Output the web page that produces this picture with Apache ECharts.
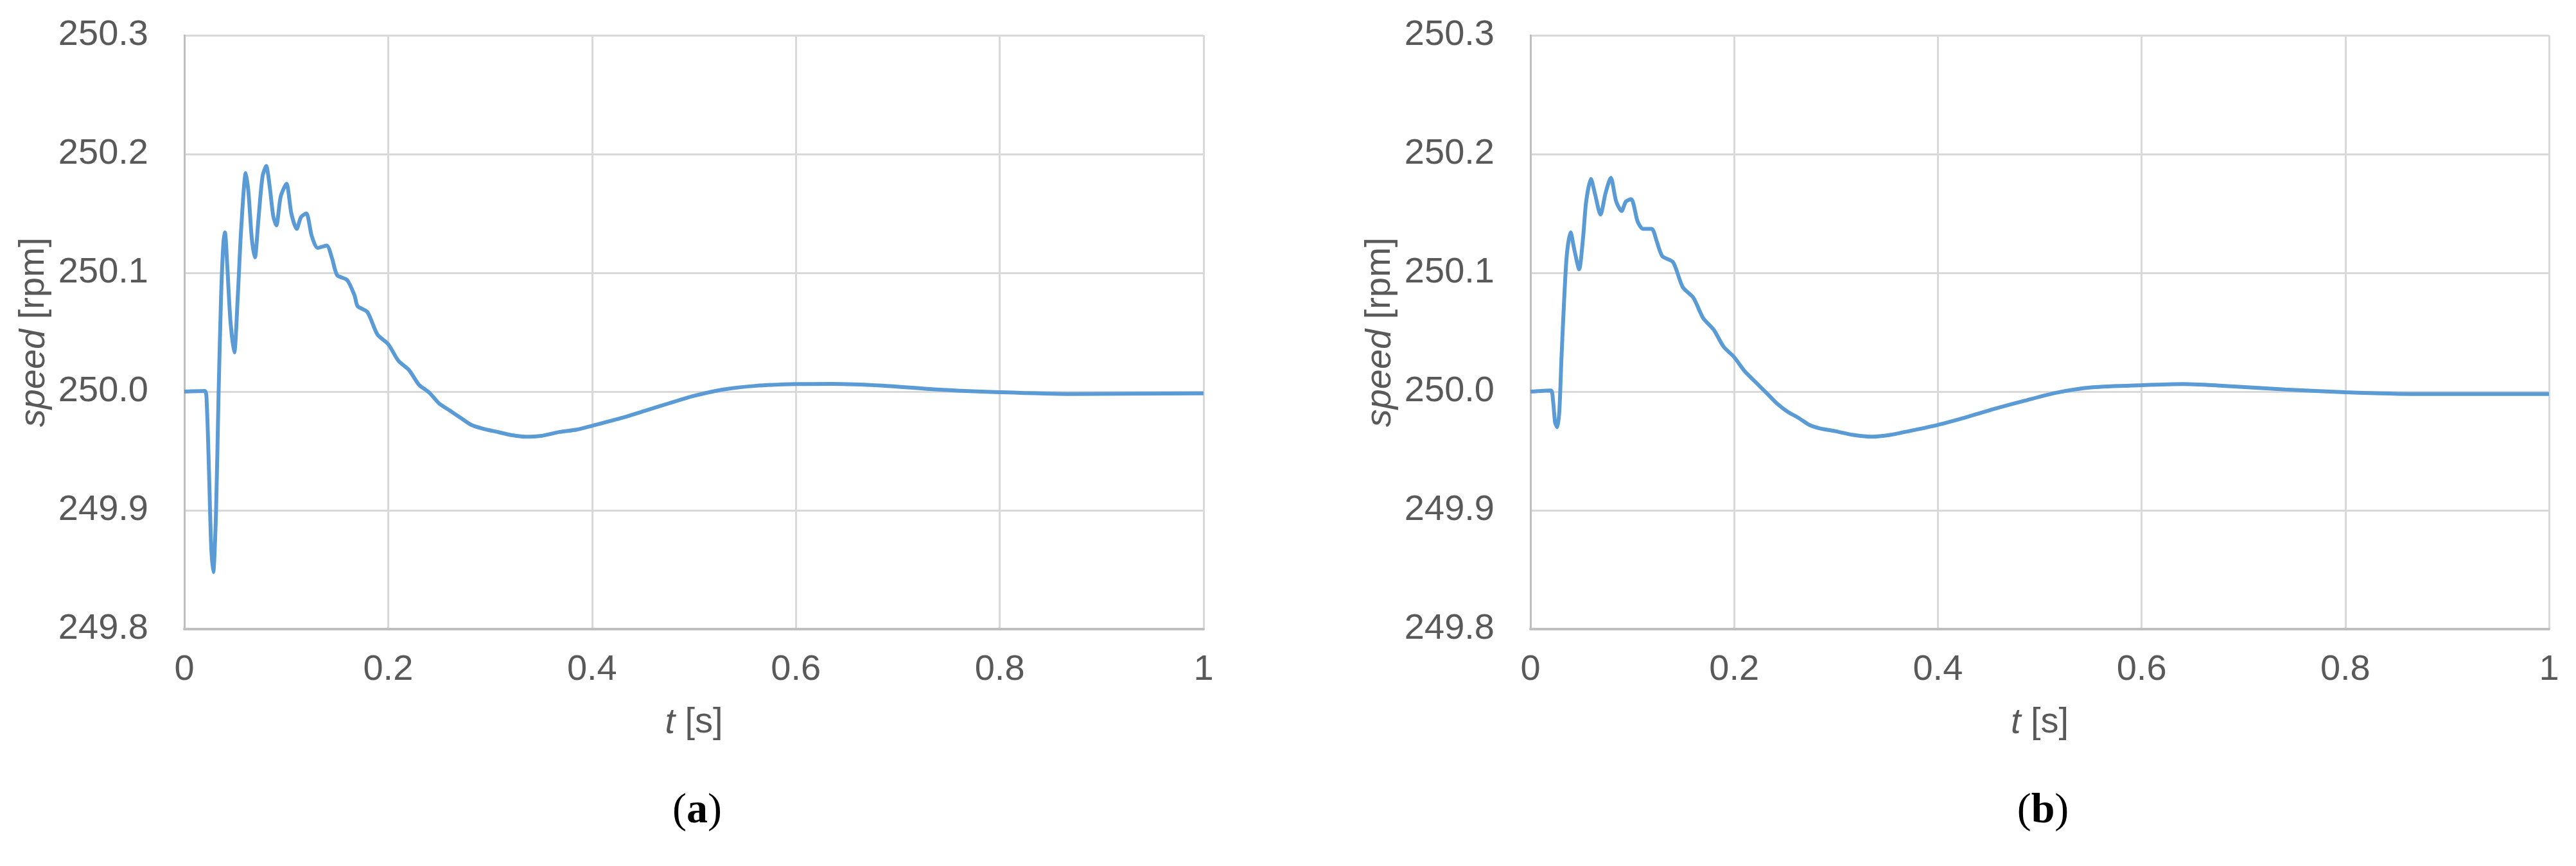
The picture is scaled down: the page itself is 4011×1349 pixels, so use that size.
<!DOCTYPE html>
<html>
<head>
<meta charset="utf-8">
<script src="https://cdn.jsdelivr.net/npm/echarts@6/dist/echarts.min.js"></script>
<style>
    html, body { margin: 0; padding: 0; background: #fff; }
    #chart { width: 4011px; height: 1349px; }
</style>
</head>
<body>
<div id="chart"></div>
<script>
// time [s] and speed [rpm]
const tA = [0, 0.020, 0.022, 0.0242, 0.0263, 0.0284, 0.0311, 0.0336, 0.0361, 0.0384, 0.0399, 0.0420, 0.0452, 0.049,
    0.0525, 0.0557, 0.0603, 0.0630, 0.0662, 0.0693, 0.0725, 0.0767, 0.0803, 0.0840, 0.0872, 0.0903, 0.0945, 0.1002,
    0.105, 0.1103, 0.1145, 0.1197, 0.125, 0.1309, 0.1397, 0.145, 0.150, 0.1597, 0.167, 0.170, 0.1796, 0.1895, 0.2,
    0.210, 0.2206, 0.230, 0.2405, 0.250, 0.2605, 0.271, 0.2815, 0.292, 0.3083, 0.32, 0.3347, 0.35, 0.368, 0.385, 0.4,
    0.43, 0.452, 0.475, 0.5, 0.5288, 0.56, 0.6, 0.636, 0.6855, 0.7377, 0.8, 0.867, 1.0];
const speedA = [250.0, 250.0005, 249.99, 249.933, 249.871, 249.848, 249.898, 249.998, 250.081, 250.126, 250.134, 250.108, 250.06, 250.033,
    250.081, 250.136, 250.184, 250.167, 250.129, 250.113, 250.143, 250.181, 250.19, 250.171, 250.148, 250.14, 250.164, 250.175,
    250.15, 250.137, 250.147, 250.15, 250.131, 250.121, 250.123, 250.112, 250.098, 250.094, 250.081, 250.072, 250.067, 250.048, 250.040,
    250.026, 250.018, 250.006, 249.999, 249.990, 249.984, 249.978, 249.972, 249.969, 249.9658, 249.9635, 249.962, 249.9627, 249.966, 249.968, 249.9712,
    249.978, 249.9838, 249.990, 249.9964, 250.0018, 250.0048, 250.0063, 250.0065, 250.005, 250.0018, 249.9995, 249.998, 249.9985];

const tB = [0, 0.020, 0.0221, 0.0242, 0.0263, 0.0284, 0.0305, 0.0333, 0.0358, 0.0394, 0.0432, 0.0478, 0.0516, 0.0547,
    0.0594, 0.0632, 0.0688, 0.0737, 0.0789, 0.0842, 0.0895, 0.0937, 0.0989, 0.1053, 0.1105, 0.119, 0.1242, 0.1295,
    0.140, 0.1495, 0.16, 0.1695, 0.18, 0.1895, 0.2, 0.2105, 0.221, 0.2316, 0.242, 0.2526, 0.263, 0.2737, 0.2842,
    0.2991, 0.317, 0.3353, 0.353, 0.3715, 0.4, 0.428, 0.456, 0.486, 0.516, 0.552, 0.601, 0.641, 0.688, 0.741, 0.8, 0.87, 1.0];
const speedB = [250.0, 250.001, 249.993, 249.974, 249.970, 249.984, 250.029, 250.081, 250.116, 250.134, 250.119, 250.103, 250.129, 250.16,
    250.179, 250.167, 250.149, 250.167, 250.18, 250.16, 250.152, 250.16, 250.162, 250.143, 250.137, 250.137, 250.126, 250.114,
    250.109, 250.088, 250.079, 250.062, 250.052, 250.038, 250.029, 250.017, 250.008, 249.999, 249.990, 249.983, 249.978, 249.972, 249.969,
    249.9667, 249.9635, 249.962, 249.9635, 249.9667, 249.972, 249.9785, 249.9856, 249.9925, 249.999, 250.0036, 250.0054, 250.0063, 250.0045, 250.0018, 249.9995, 249.998, 249.998];

const xTicks = [0, 0.2, 0.4, 0.6, 0.8, 1];
const yTicks = [249.8, 249.9, 250.0, 250.1, 250.2, 250.3];

const panelLabels = ['a', 'b'];

const font = "'Liberation Sans', Arial, sans-serif";
const serif = "'Liberation Serif', 'DejaVu Serif', serif";
const textGray = '#595959';
const lineBlue = '#5B9BD5';

const grids = [
    { left: 287, top: 55, width: 1587, height: 925 },
    { left: 2383, top: 55, width: 1586, height: 925 }
];

function makeX(i) {
    return {
        type: 'value',
        gridIndex: i,
        min: xTicks[0],
        max: xTicks[xTicks.length - 1],
        interval: 0.2,
        name: '{i|t} [s]',
        nameLocation: 'middle',
        nameGap: 118,
        nameTextStyle: {
            fontFamily: font, fontSize: 56, color: textGray,
            rich: { i: { fontFamily: font, fontSize: 56, color: textGray, fontStyle: 'italic' } }
        },
        axisLine: { show: true, lineStyle: { color: '#bfbfbf', width: 4 } },
        axisTick: { show: false },
        axisLabel: {
            margin: 36, fontFamily: font, fontSize: 56, color: textGray,
            formatter: v => String(Math.round(v * 10) / 10)
        },
        splitLine: { show: true, showMinLine: false, showMaxLine: true, lineStyle: { color: '#d9d9d9', width: 3 } }
    };
}

function makeY(i) {
    return {
        type: 'value',
        gridIndex: i,
        min: yTicks[0],
        max: yTicks[yTicks.length - 1],
        interval: 0.1,
        name: '{i|speed} [rpm]',
        nameLocation: 'middle',
        nameGap: 206,
        nameTextStyle: {
            fontFamily: font, fontSize: 56, color: textGray,
            rich: { i: { fontFamily: font, fontSize: 56, color: textGray, fontStyle: 'italic' } }
        },
        axisLine: { show: true, lineStyle: { color: '#bfbfbf', width: 3 } },
        axisTick: { show: false },
        axisLabel: {
            margin: 56, fontFamily: font, fontSize: 56, color: textGray,
            formatter: v => v.toFixed(1)
        },
        splitLine: { show: true, showMinLine: false, showMaxLine: true, lineStyle: { color: '#d9d9d9', width: 3 } }
    };
}

function pairs(ts, vs) {
    return ts.map((t, k) => [t, vs[k]]);
}

var myChart = echarts.init(document.getElementById('chart'));
var option = {
    backgroundColor: '#fff',
    animation: false,
    title: panelLabels.map((p, i) => ({
        text: '({b|' + p + '})',
        left: grids[i].left + grids[i].width / 2,
        top: 1226,
        textAlign: 'center',
        textStyle: {
            fontFamily: serif, fontSize: 66, color: '#000', fontWeight: 'normal',
            rich: { b: { fontFamily: serif, fontSize: 66, color: '#000', fontWeight: 'bold' } }
        }
    })),
    grid: grids,
    xAxis: [makeX(0), makeX(1)],
    yAxis: [makeY(0), makeY(1)],
    series: [
        {
            type: 'line', xAxisIndex: 0, yAxisIndex: 0,
            data: pairs(tA, speedA),
            smooth: 0.25, showSymbol: false,
            lineStyle: { color: lineBlue, width: 6 }
        },
        {
            type: 'line', xAxisIndex: 1, yAxisIndex: 1,
            data: pairs(tB, speedB),
            smooth: 0.25, showSymbol: false,
            lineStyle: { color: lineBlue, width: 6 }
        }
    ]
};
myChart.setOption(option);
</script>
</body>
</html>
